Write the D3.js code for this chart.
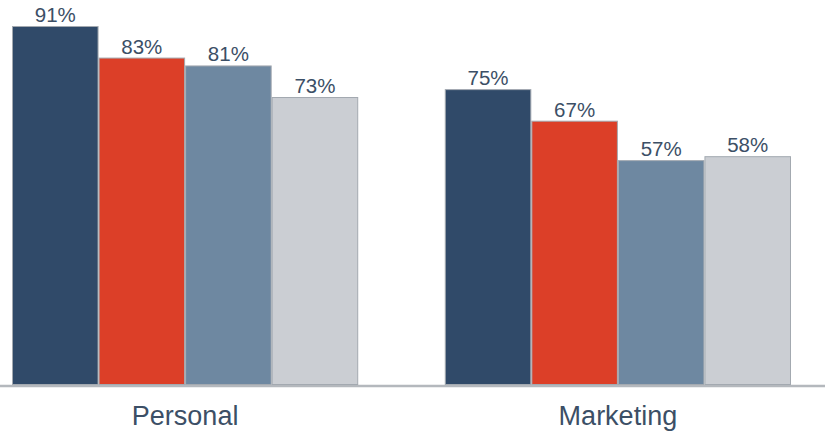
<!DOCTYPE html>
<html>
<head>
<meta charset="utf-8">
<script src="https://cdn.jsdelivr.net/npm/d3@7"></script>
<style>
  body { margin: 0; background: #fff; }
  #chart text { font-family: "Liberation Sans", Arial, sans-serif; fill: #3c4f66; }
</style>
</head>
<body>
<div id="chart"></div>
<script>
// Data
const categories = ["Personal", "Marketing"];
const seriesNames = ["s1", "s2", "s3", "s4"];
const personalValues = [91, 83, 81, 73];
const marketingValues = [75, 67, 57, 58];
const seriesColors = ["#304a69", "#dc3f28", "#6e88a1", "#cbced3"];

const dataset = categories.map((c, i) => ({
  category: c,
  values: (i === 0 ? personalValues : marketingValues).map((v, j) => ({ key: seriesNames[j], value: v }))
}));

// Dimensions
const width = 825;
const height = 431;
const baseline = 385;

const svg = d3.select("#chart")
  .append("svg")
  .attr("width", width)
  .attr("height", height);

// Scales
const x0 = d3.scaleBand()
  .domain(categories)
  .range([12, 791])
  .paddingInner(0.2)
  .paddingOuter(0);

const x1 = d3.scaleBand()
  .domain(seriesNames)
  .range([0, x0.bandwidth()])
  .padding(0);

const y = d3.scaleLinear()
  .domain([0, 91])
  .range([baseline, 26]);

const color = d3.scaleOrdinal().domain(seriesNames).range(seriesColors);

// Baseline
svg.append("line")
  .attr("x1", 0)
  .attr("x2", width)
  .attr("y1", baseline + 1)
  .attr("y2", baseline + 1)
  .attr("stroke", "#b4b8bd")
  .attr("stroke-width", 2.5);

// Bars
const groups = svg.selectAll("g.group")
  .data(dataset)
  .join("g")
  .attr("class", "group")
  .attr("transform", (d) => `translate(${x0(d.category)},0)`);

groups.selectAll("rect")
  .data((d) => d.values)
  .join("rect")
  .attr("x", (d) => x1(d.key) + 0.5)
  .attr("y", (d) => y(d.value) + 0.5)
  .attr("width", x1.bandwidth() - 1)
  .attr("height", (d) => y(0) - y(d.value) - 1)
  .attr("fill", (d) => color(d.key))
  .attr("stroke", "#a3a9b0")
  .attr("stroke-width", 1);

// Value labels
groups.selectAll("text.value")
  .data((d) => d.values)
  .join("text")
  .attr("class", "value")
  .attr("x", (d) => x1(d.key) + x1.bandwidth() / 2)
  .attr("y", (d) => y(d.value) - 4)
  .attr("text-anchor", "middle")
  .style("font-size", "20.5px")
  .text((d) => d.value + "%");

// Category axis labels
const xAxis = d3.axisBottom(x0).tickSize(0).tickPadding(0);
const xAxisGroup = svg.append("g")
  .attr("transform", `translate(0, ${baseline})`)
  .call(xAxis);
xAxisGroup.select(".domain").remove();
xAxisGroup.selectAll("text")
  .attr("dy", null)
  .attr("y", 40)
  .style("font-size", "27px");
</script>
</body>
</html>
